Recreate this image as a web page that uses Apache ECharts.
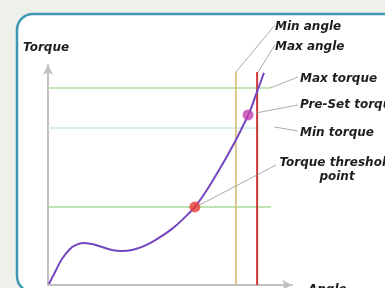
<!DOCTYPE html>
<html><head><meta charset="utf-8">
<script src="https://cdn.jsdelivr.net/npm/echarts@6/dist/echarts.min.js"></script>
<style>html,body{margin:0;padding:0;background:#eef1ea;}#c{width:385px;height:288px;}</style>
</head><body><div id="c"></div>
<script>
// Torque vs angle curve (axis units 0-100)
const curveAngle  = [0.4, 2.9, 5.7, 9.0, 11.5, 14.3, 18.0, 22.1, 26.2, 30.3, 34.4, 38.5, 42.6, 46.7, 50.8, 54.9, 60.2, 64.3, 68.4, 72.5, 77.0, 80.3, 82.8, 85.2, 88.5];
const curveTorque = [0.5, 5.9, 11.8, 16.4, 18.2, 19.1, 18.6, 17.3, 15.9, 15.5, 15.9, 17.3, 19.5, 22.3, 25.5, 29.5, 35.5, 41.8, 49.1, 56.8, 65.9, 73.2, 79.1, 86.4, 96.4];
// Limits
const maxTorque = 89.5, minTorque = 71.4, thresholdTorque = 35.5;
const minAngle = 77.0, maxAngle = 85.7;
const limitTop = 96.8;
const hLineEnds = { max: 91.0, min: 86.9, threshold: 91.4 };
// Key points
const thresholdPoint = [60.2, 35.5];
const presetPoint = [82.0, 77.3];
// Labels
const labels = ["Min angle", "Max angle", "Max torque", "Pre-Set torque", "Min torque", "Torque threshold\npoint"];

const chart = echarts.init(document.getElementById('c'), null, {renderer: 'canvas'});
const font = {fontFamily: 'DejaVu Sans', fontStyle: 'italic', fontWeight: 'bold', fontSize: 12, fill: '#1e1e1e'};

const option = {
  animation: false,
  backgroundColor: '#eef1ea',
  grid: {left: 48, right: 93, top: 65, bottom: 3, containLabel: false},
  xAxis: {type: 'value', min: 0, max: 100, axisLabel: {show: false}, axisTick: {show: false}, splitLine: {show: false},
    axisLine: {show: true, onZero: false, lineStyle: {color: '#c4c0c0', width: 2}, symbol: ['none', 'arrow'], symbolSize: [8, 10]}},
  yAxis: {type: 'value', min: 0, max: 100, axisLabel: {show: false}, axisTick: {show: false}, splitLine: {show: false},
    axisLine: {show: true, onZero: false, lineStyle: {color: '#c4c0c0', width: 2}, symbol: ['none', 'arrow'], symbolSize: [8, 10]}},
  series: [
    {type: 'line', data: [[0, maxTorque], [hLineEnds.max, maxTorque]], symbol: 'none', lineStyle: {color: '#b5dca0', width: 1.5}, z: 2},
    {type: 'line', data: [[0, minTorque], [hLineEnds.min, minTorque]], symbol: 'none', lineStyle: {color: '#cfe8f2', width: 1.5}, z: 2},
    {type: 'line', data: [[0, thresholdTorque], [hLineEnds.threshold, thresholdTorque]], symbol: 'none', lineStyle: {color: '#a8dc98', width: 1.5}, z: 2},
    {type: 'line', data: [[minAngle, 0], [minAngle, limitTop]], symbol: 'none', lineStyle: {color: '#d4b870', width: 1.5}, z: 3},
    {type: 'line', data: [[maxAngle, 0], [maxAngle, limitTop]], symbol: 'none', lineStyle: {color: '#d03838', width: 2}, z: 3},
    {type: 'line', data: curveAngle.map((a, i) => [a, curveTorque[i]]), smooth: 0.4, symbol: 'none', lineStyle: {color: '#7446c0', width: 2}, z: 4},
    {type: 'scatter', data: [thresholdPoint], symbolSize: 11, itemStyle: {color: '#e83a34'}, z: 5},
    {type: 'scatter', data: [presetPoint], symbolSize: 11, itemStyle: {color: '#c640b0'}, z: 5}
  ]
};
chart.setOption(option);

const P = (v) => chart.convertToPixel({gridIndex: 0}, v);
const minA = P([minAngle, limitTop]);
const maxA = P([maxAngle, limitTop]);
const maxT = P([hLineEnds.max, maxTorque]);
const pre = P(presetPoint);
const minT = P([hLineEnds.min, minTorque]);
const thr = P(thresholdPoint);
const leader = {stroke: '#9a9590', lineWidth: 0.8};
const line = (x1, y1, x2, y2) => ({type: 'line', shape: {x1, y1, x2, y2}, style: leader, z: 10});
const text = (t, x, y, align) => ({type: 'text', x, y, style: Object.assign({text: t, align: align || 'left', verticalAlign: 'middle', lineHeight: 14}, font), z: 10});

chart.setOption({graphic: [
  {type: 'rect', shape: {x: 17, y: 14, width: 420, height: 278, r: 16}, style: {fill: '#ffffff', stroke: '#3f97b5', lineWidth: 2.5}, z: -10, silent: true},
  text('Torque', 23, 48),
  text('Angle', 308, 290),
  line(275, 25, minA[0], minA[1]),
  text(labels[0], 275, 27),
  line(275, 45, maxA[0] + 1, maxA[1]),
  text(labels[1], 275, 47),
  line(298, 77, maxT[0], maxT[1]),
  text(labels[2], 300, 79),
  line(298, 105, pre[0] + 8, pre[1] - 2),
  text(labels[3], 300, 105),
  line(298, 131, minT[0] + 14, minT[1] - 1),
  text(labels[4], 300, 133),
  line(276, 165, thr[0] + 3, thr[1] - 1),
  {type: 'text', x: 337, y: 170, style: Object.assign({text: labels[5], align: 'center', verticalAlign: 'middle', lineHeight: 14}, font), z: 10}
]});
</script></body></html>
